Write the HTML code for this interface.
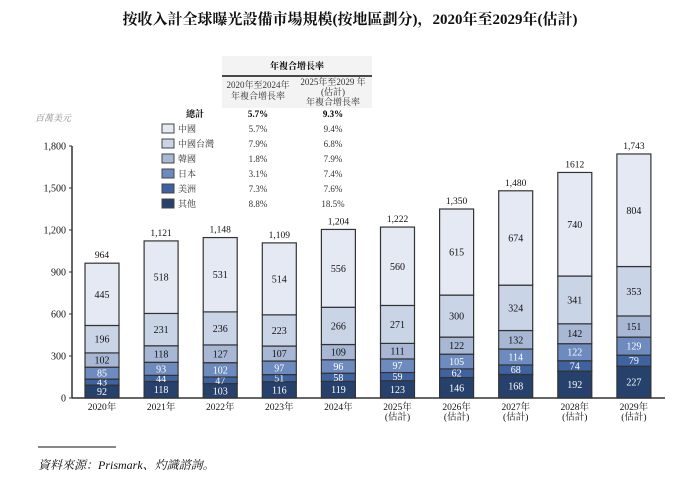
<!DOCTYPE html>
<html><head><meta charset="utf-8"><style>
body{margin:0;background:#fff;}
svg{display:block;font-family:"Liberation Serif","Noto Serif CJK SC","Noto Sans CJK TC",serif;}
</style></head><body>
<svg id="c" width="700" height="480" viewBox="0 0 700 480">
<text x="350" y="24" text-anchor="middle" font-size="15" font-weight="bold" fill="#111">按收入計全球曝光設備市場規模(按地區劃分)，2020年至2029年(估計)</text>
<text x="35" y="121" font-size="9" font-style="italic" fill="#888">百萬美元</text>
<g>
<rect x="222" y="56" width="150" height="52" fill="#f3f3f3"/>
<text x="297" y="69" text-anchor="middle" font-size="9" font-weight="bold">年複合增長率</text>
<line x1="222" y1="76" x2="372" y2="76" stroke="#111" stroke-width="1.5"/>
<text x="258" y="88" text-anchor="middle" font-size="9" fill="#333">2020年至2024年</text>
<text x="258" y="99" text-anchor="middle" font-size="9" fill="#333">年複合增長率</text>
<text x="333" y="85" text-anchor="middle" font-size="9" fill="#333">2025年至2029 年</text>
<text x="333" y="95" text-anchor="middle" font-size="9" fill="#333">(估計)</text>
<text x="333" y="105" text-anchor="middle" font-size="9" fill="#333">年複合增長率</text>
</g>
<g id="legend"></g>
<g id="axes"></g>
<g id="bars"></g>
<line x1="38" y1="447" x2="116" y2="447" stroke="#111" stroke-width="1"/>
<text x="38" y="469" font-size="12" font-style="italic" fill="#111">資料來源：Prismark、灼識諮詢。</text>
</svg>
<script>
const categories=["2020年","2021年","2022年","2023年","2024年","2025年","2026年","2027年","2028年","2029年"];
const estimated=[false,false,false,false,false,true,true,true,true,true];
const seriesNames=["其他","美洲","日本","韓國","中國台灣","中國"];
const other=[92,118,103,116,119,123,146,168,192,227];
const americas=[43,44,47,51,58,59,62,68,74,79];
const japan=[85,93,102,97,96,97,105,114,122,129];
const korea=[102,118,127,107,109,111,122,132,142,151];
const taiwan=[196,231,236,223,266,271,300,324,341,353];
const china=[445,518,531,514,556,560,615,674,740,804];
const totals=["964","1,121","1,148","1,109","1,204","1,222","1,350","1,480","1612","1,743"];
const yTicks=[0,300,600,900,1200,1500,1800];
const yTickLabels=["0","300","600","900","1,200","1,500","1,800"];
const legendNames=["中國","中國台灣","韓國","日本","美洲","其他"];
const cagr1=["5.7%","7.9%","1.8%","3.1%","7.3%","8.8%"];
const cagr2=["9.4%","6.8%","7.9%","7.4%","7.6%","18.5%"];
const colors={"其他":"#26416b","美洲":"#3f62a0","日本":"#6d8bbf","韓國":"#a8b7d4","中國台灣":"#cad4e7","中國":"#e4e9f4"};
const textCol={"其他":"#fff","美洲":"#fff","日本":"#fff","韓國":"#111","中國台灣":"#111","中國":"#111"};
const NS="http://www.w3.org/2000/svg";
const y0=398,scale=252/1800;
const yS=v=>y0-v*scale;
const xS=i=>102+i*59.1;
const bw=34;
function mk(t,a,p){const e=document.createElementNS(NS,t);for(const k in a)e.setAttribute(k,a[k]);p.appendChild(e);return e;}
const lg=document.getElementById('legend');
let t=mk('text',{x:195,y:117,'text-anchor':'middle','font-size':9,'font-weight':'bold'},lg);t.textContent="總計";
t=mk('text',{x:258,y:117,'text-anchor':'middle','font-size':9,'font-weight':'bold'},lg);t.textContent="5.7%";
t=mk('text',{x:333,y:117,'text-anchor':'middle','font-size':9,'font-weight':'bold'},lg);t.textContent="9.3%";
legendNames.forEach((n,i)=>{
 const yy=132+i*15;
 const r=mk('rect',{x:162,y:yy-8,width:12,height:9,fill:colors[n],stroke:'#444','stroke-width':1},lg);
 
 
 const tx=mk('text',{x:178,y:yy,'font-size':9,fill:'#333'},lg);tx.textContent=n;
 
 
 const a=mk('text',{x:258,y:yy,'text-anchor':'middle','font-size':9,fill:'#333'},lg);a.textContent=cagr1[i];
 const b=mk('text',{x:333,y:yy,'text-anchor':'middle','font-size':9,fill:'#333'},lg);b.textContent=cagr2[i];
});
const ax=document.getElementById('axes');
const yl=mk('line',{x1:72,y1:yS(1800),x2:72,y2:y0,stroke:'#333','stroke-width':1.5},ax);


const xl=mk('line',{x1:72,y1:y0,x2:665,y2:y0,stroke:'#333','stroke-width':1.5},ax);


yTicks.forEach((v,i)=>{
 mk('line',{x1:69,y1:yS(v),x2:72,y2:yS(v),stroke:'#333'},ax);
 const tt=mk('text',{x:66,y:yS(v)+3.5,'text-anchor':'end','font-size':10,fill:'#111'},ax);tt.textContent=yTickLabels[i];
 
 
});
const bg=document.getElementById('bars');
const series=[other,americas,japan,korea,taiwan,china];
categories.forEach((c,i)=>{
 const x=xS(i);let acc=0;
 series.forEach((s,k)=>{
  const v=s[i],n=seriesNames[k];
  const top=yS(acc+v),bot=yS(acc);
  const r=mk('rect',{x:x-bw/2,y:top,width:bw,height:bot-top,fill:colors[n],stroke:'#333','stroke-width':1.2},bg);
  
  
  const l=mk('text',{x:x,y:(top+bot)/2+3.5,'text-anchor':'middle','font-size':10,fill:textCol[n]},bg);l.textContent=v;
  acc+=v;
 });
 const tl=mk('text',{x:x,y:yS(acc)-5,'text-anchor':'middle','font-size':9.5,fill:'#111'},bg);tl.textContent=totals[i];
 
 
 const cl=mk('text',{x:x,y:410,'text-anchor':'middle','font-size':9.5,fill:'#111'},bg);cl.textContent=c;
 
 
 if(estimated[i]){const e=mk('text',{x:x,y:420,'text-anchor':'middle','font-size':9.5,fill:'#111'},bg);e.textContent="(估計)";}
});
</script>
</body></html>
